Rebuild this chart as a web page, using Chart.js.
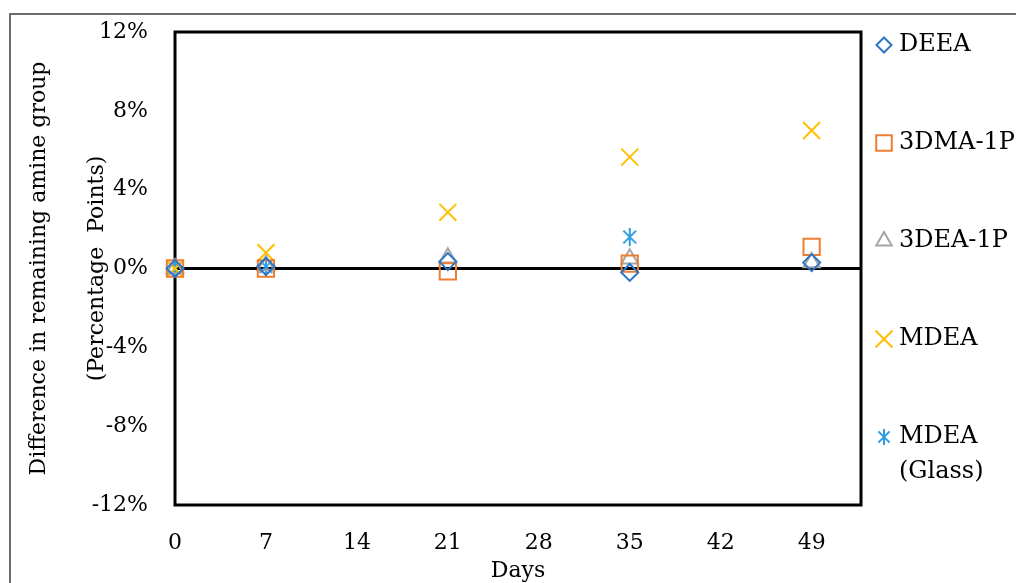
<!DOCTYPE html>
<html>
<head>
<meta charset="utf-8">
<script src="https://cdn.jsdelivr.net/npm/chart.js@4.4.1/dist/chart.umd.min.js"></script>
<style>
    body { margin: 0; background: #fff; }
    #wrap { position: relative; width: 1016px; height: 583px; overflow: hidden; }
    #frame { position: absolute; left: 9px; top: 13px; width: 1100px; height: 700px; border: 2px solid #6b6b6b; box-sizing: border-box; }
    #chartBox { position: absolute; left: 0; top: 0; width: 1016px; height: 583px; }
</style>
</head>
<body>
<div id="wrap">
    <div id="frame"></div>
    <div id="chartBox"><canvas id="amineChart"></canvas></div>
</div>
<script>
// Data (days vs. percentage points)
const days = [0, 7, 21, 35, 49];
const deea = [0, 0.1, 0.35, -0.2, 0.3];
const dma1p = [0, 0, -0.15, 0.25, 1.1];
const dea1p = [0, 0.15, 0.55, 0.5, 0.3];
const mdea = [0, 0.8, 2.85, 5.65, 7.0];
const mdeaGlass = [0, 0.1, null, 1.6, null];

const xTicks = [0, 7, 14, 21, 28, 35, 42, 49];
const yTicks = [-12, -8, -4, 0, 4, 8, 12];

const seriesNames = ['DEEA', '3DMA-1P', '3DEA-1P', 'MDEA', 'MDEA (Glass)'];
const colors = ['#2E75C6', '#ED7D31', '#A5A5A5', '#FFC000', '#2D9DE0'];

const fontFamily = '"DejaVu Serif", "Liberation Serif", serif';

// Excel style asterisk: vertical stroke plus an X
function makeAsterisk(color, size) {
    const c = document.createElement('canvas');
    c.width = size;
    c.height = size;
    const g = c.getContext('2d');
    const m = size / 2;
    const r = size / 2 - 1;
    const d = r * Math.SQRT1_2;
    g.strokeStyle = color;
    g.lineWidth = 2;
    g.beginPath();
    g.moveTo(m, m - r); g.lineTo(m, m + r);
    g.moveTo(m - d, m - d); g.lineTo(m + d, m + d);
    g.moveTo(m - d, m + d); g.lineTo(m + d, m - d);
    g.stroke();
    return c;
}

const asterisk = makeAsterisk(colors[4], 20);
const asteriskSmall = makeAsterisk(colors[4], 18);

const markerStyles = [
    { pointStyle: 'rectRot', radius: 8.5 },
    { pointStyle: 'rect', radius: 11.5 },
    { pointStyle: 'triangle', radius: 9.5 },
    { pointStyle: 'crossRot', radius: 12 },
    { pointStyle: asterisk, radius: 10 }
];

function toPoints(values) {
    return days.map((d, i) => ({ x: d, y: values[i] })).filter(p => p.y !== null);
}

const allValues = [deea, dma1p, dea1p, mdea, mdeaGlass];

const datasets = allValues.map((vals, i) => ({
    label: seriesNames[i],
    data: toPoints(vals),
    showLine: false,
    clip: false,
    borderColor: colors[i],
    backgroundColor: 'rgba(0,0,0,0)',
    pointStyle: markerStyles[i].pointStyle,
    pointRadius: markerStyles[i].radius,
    pointHoverRadius: markerStyles[i].radius,
    pointBorderWidth: 2
}));

// Plot frame
const frameBox = {
    id: 'frameBox',
    beforeDatasetsDraw(chart) {
        const { ctx, chartArea: a } = chart;
        ctx.save();
        ctx.strokeStyle = '#000';
        ctx.lineWidth = 3;
        ctx.strokeRect(a.left, a.top, a.right - a.left, a.bottom - a.top);
        ctx.restore();
    }
};

// Legend on the right, drawn with the library's point helper
const sideLegend = {
    id: 'sideLegend',
    afterDraw(chart) {
        const { ctx } = chart;
        const rows = [
            { lines: ['DEEA'], y: 45 },
            { lines: ['3DMA-1P'], y: 143 },
            { lines: ['3DEA-1P'], y: 241 },
            { lines: ['MDEA'], y: 339 },
            { lines: ['MDEA', '(Glass)'], y: 437 }
        ];
        const legendMarkers = [
            { pointStyle: 'rectRot', radius: 7.5 },
            { pointStyle: 'rect', radius: 11 },
            { pointStyle: 'triangle', radius: 9 },
            { pointStyle: 'crossRot', radius: 12 },
            { pointStyle: asteriskSmall, radius: 9 }
        ];
        ctx.save();
        ctx.font = '24px ' + fontFamily;
        ctx.textBaseline = 'middle';
        rows.forEach((row, i) => {
            ctx.strokeStyle = colors[i];
            ctx.fillStyle = 'rgba(0,0,0,0)';
            ctx.lineWidth = 2;
            Chart.helpers.drawPoint(ctx, {
                pointStyle: legendMarkers[i].pointStyle,
                radius: legendMarkers[i].radius,
                borderWidth: 2,
                rotation: 0
            }, 884, row.y);
            ctx.fillStyle = '#000';
            row.lines.forEach((t, j) => {
                ctx.fillText(t, 899, row.y + j * 35);
            });
        });
        ctx.restore();
    }
};

const chart = new Chart(document.getElementById('amineChart').getContext('2d'), {
    type: 'scatter',
    data: { datasets: datasets },
    options: {
        responsive: true,
        maintainAspectRatio: false,
        animation: false,
        layout: { padding: { left: 0, right: 155, top: 32, bottom: 0 } },
        plugins: {
            legend: { display: false },
            tooltip: { enabled: false }
        },
        scales: {
            x: {
                type: 'linear',
                min: 0,
                max: 52.8,
                afterBuildTicks: scale => {
                    scale.ticks = xTicks.map(v => ({ value: v }));
                },
                afterFit: scale => {
                    scale.height = 78;
                    scale.paddingLeft = 0;
                    scale.paddingRight = 0;
                },
                grid: { display: false, drawTicks: false },
                border: { display: false },
                ticks: {
                    color: '#000',
                    padding: 25,
                    maxRotation: 0,
                    autoSkip: false,
                    font: { family: fontFamily, size: 22 }
                },
                title: {
                    display: true,
                    text: 'Days',
                    color: '#000',
                    padding: { top: 0, bottom: -1 },
                    font: { family: fontFamily, size: 22 }
                }
            },
            y: {
                min: -12,
                max: 12,
                afterBuildTicks: scale => {
                    scale.ticks = yTicks.map(v => ({ value: v }));
                },
                afterFit: scale => {
                    scale.width = 175;
                    scale.paddingTop = 0;
                    scale.paddingBottom = 0;
                },
                grid: {
                    drawTicks: false,
                    color: c => (c.tick && c.tick.value === 0) ? '#000' : 'rgba(0,0,0,0)',
                    lineWidth: 3
                },
                border: { display: false },
                ticks: {
                    color: '#000',
                    padding: 27,
                    font: { family: fontFamily, size: 22 },
                    callback: v => v + '%'
                },
                title: {
                    display: true,
                    text: ['Difference in remaining amine group', '(Percentage  Points)'],
                    color: '#000',
                    padding: { top: 11, bottom: 0 },
                    font: { family: fontFamily, size: 22, lineHeight: 2.6 }
                }
            }
        }
    },
    plugins: [frameBox, sideLegend]
});
</script>
</body>
</html>
